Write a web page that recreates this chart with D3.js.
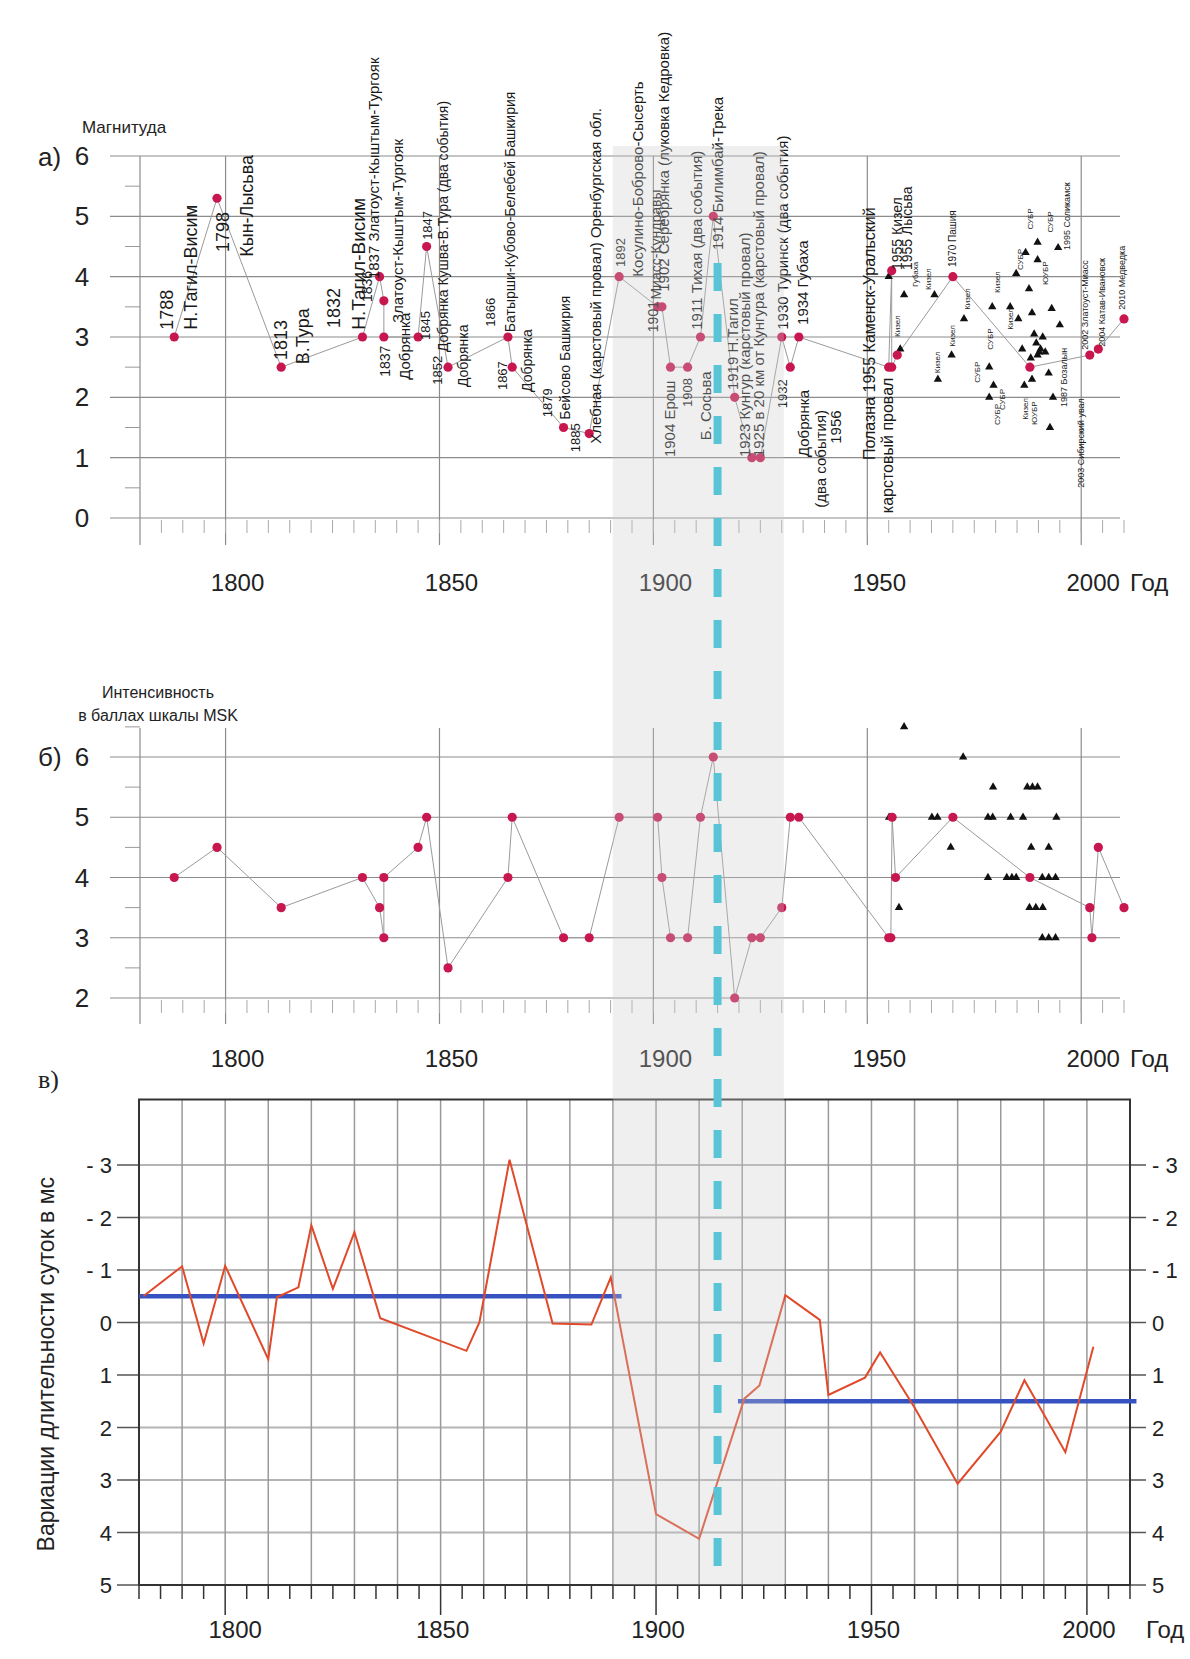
<!DOCTYPE html>
<html>
<head>
<meta charset="utf-8">
<script src="https://cdn.jsdelivr.net/npm/d3@7"></script>
<style>
body { margin: 0; background: #fff; }
svg { display: block; font-family: "Liberation Sans", Arial, sans-serif; }
</style>
</head>
<body>
<svg id="chart" width="1190" height="1659"></svg>
<script>
/* Data */
var yearTicks = [1800, 1850, 1900, 1950, 2000];
var magTicks = [0, 1, 2, 3, 4, 5, 6];
var intTicks = [2, 3, 4, 5, 6];
var lodTicks = [-3, -2, -1, 0, 1, 2, 3, 4, 5];
var lodTickLabels = ['- 3', '- 2', '- 1', '0', '1', '2', '3', '4', '5'];

// а) historical events: magnitude
var magYears = [1788, 1798, 1813, 1832, 1836, 1837, 1837, 1845, 1847, 1852, 1866, 1867, 1879, 1885,
    1892, 1901, 1902, 1904, 1908, 1911, 1914, 1919, 1923, 1925, 1930, 1932, 1934,
    1955, 1955.7, 1955.7, 1957, 1970, 1988, 2002, 2004, 2010];
var magValues = [3.0, 5.3, 2.5, 3.0, 4.0, 3.6, 3.0, 3.0, 4.5, 2.5, 3.0, 2.5, 1.5, 1.4,
    4.0, 3.5, 3.5, 2.5, 2.5, 3.0, 5.0, 2.0, 1.0, 1.0, 3.0, 2.5, 3.0,
    2.5, 4.1, 2.5, 2.7, 4.0, 2.5, 2.7, 2.8, 3.3];

// а) instrumental events
var magTriYears = [1955, 1957.7, 1958.6, 1965.7, 1966.5, 1969.7, 1972.6, 1978.5, 1979.5, 1978.5, 1979.2,
    1983.4, 1984.8, 1985.3, 1986.7, 1987, 1987.8, 1988.5, 1988.5, 1989, 1989.5, 1990.5, 1991,
    1989.8, 1990.2, 1991.6, 1989.8, 1989.8, 1992.4, 1992.7, 1993.1, 1993.4, 1994.6, 1995, 1986.2, 1988.2];
var magTriValues = [4.0, 2.8, 3.7, 3.7, 2.3, 2.7, 3.3, 2.5, 2.2, 2.0, 3.5,
    3.5, 4.05, 3.3, 2.2, 4.4, 3.8, 3.4, 2.3, 3.05, 2.9, 2.8, 3.0,
    2.7, 2.75, 2.75, 4.57, 4.28, 2.4, 1.5, 3.47, 2.0, 4.48, 3.2, 2.8, 2.65];

// а) event captions: text, year, magnitude at the start of the caption, font size
var magLabels = [
    ['1788', 1786.3, 3.12, 18], ['Н.Тагил-Висим', 1791.9, 3.12, 18],
    ['1798', 1799.4, 4.41, 18], ['Кын-Лысьва', 1805, 4.33, 18],
    ['1813', 1812.9, 2.62, 18], ['В.Тура', 1817.9, 2.55, 18],
    ['1832', 1825.3, 3.15, 18], ['Н.Тагил-Висим', 1831, 3.12, 19],
    ['1836', 1833, 3.58, 14], ['1837 Златоуст-Кыштым-Тургояк', 1834.7, 3.96, 15],
    ['1837', 1837.3, 2.34, 14], ['Златоуст-Кыштым-Тургояк', 1840.1, 3.23, 15],
    ['Добрянка', 1841.9, 2.29, 15], ['1845', 1846.6, 2.95, 13], ['1847', 1847.1, 4.61, 13],
    ['Добрянка  Кушва-В.Тура (два события)', 1850.8, 2.75, 14],
    ['1852', 1849.4, 2.21, 13], ['Добрянка', 1855.5, 2.17, 14],
    ['1866', 1861.8, 3.17, 13], ['Батырши-Кубово-Белебей Башкирия', 1866.5, 3.08, 14],
    ['1867', 1864.8, 2.12, 13], ['Добрянка', 1870.4, 2.09, 14],
    ['1879', 1875.1, 1.67, 13], ['Бейсово Башкирия', 1879.3, 1.63, 14],
    ['1885', 1881.7, 1.09, 13], ['Хлебная (карстовый провал) Оренбургская обл.', 1886.6, 1.23, 15],
    ['1892', 1892.2, 4.16, 13], ['Косулино-Боброво-Сысерть', 1896.2, 4.0, 15],
    ['1901', 1899.9, 3.08, 14], ['Миасс-Кундравы', 1900.6, 3.62, 14],
    ['1902 Серебрянка (луковка Кедровка)', 1902.5, 3.75, 15],
    ['1904 Ерош', 1903.9, 1.01, 15], ['1908', 1907.9, 1.84, 13], ['Б. Сосьва', 1912.1, 1.29, 15],
    ['1911 Тихая (два события)', 1910, 3.12, 15], ['1914 Билимбай-Трека', 1914.9, 4.44, 15],
    ['1919 Н.Тагил', 1918.6, 2.12, 15], ['1923 Кунгур (карстовый провал)', 1921.4, 1.01, 15],
    ['1925 в 20 км от Кунгура (карстовый провал)', 1924.5, 1.01, 15],
    ['1930 Туринск (два события)', 1930.3, 3.12, 15], ['1932', 1930.1, 1.82, 13],
    ['1934 Губаха', 1934.8, 3.2, 15], ['Добрянка', 1935, 1.01, 15],
    ['(два события)', 1939, 0.17, 15], ['1956', 1942.5, 1.23, 15],
    ['Полазна  1955 Каменск-Уральский', 1950.4, 0.96, 16], ['карстовый провал', 1954.6, 0.08, 16],
    ['1955 Кизел', 1956.9, 4.11, 14], ['1955 Лысьва', 1959.3, 4.11, 14],
    ['1970 Пашия', 1969.8, 4.16, 10], ['1995 Соликамск', 1996.7, 4.44, 9],
    ['1987 Бозалын', 1996, 1.84, 9], ['2002 Златоуст-Миасс', 2000.9, 2.79, 9],
    ['2003 Сибирский увал', 2000, 0.5, 9], ['2004 Катав-Ивановск', 2004.9, 2.84, 9],
    ['2010 Медведка', 2009.5, 3.45, 9],
    ['Кизел', 1957, 3.0, 8], ['Губаха', 1961.2, 3.83, 8], ['Кизел', 1964.2, 3.78, 8],
    ['Кизел', 1966.3, 2.4, 8], ['Кизел', 1969.8, 2.84, 8], ['Кизел', 1973.3, 3.45, 8],
    ['Кизел', 1980.3, 3.73, 8], ['СУБР', 1975.6, 2.24, 8], ['СУБР', 1978.6, 2.79, 8],
    ['СУБР', 1981.5, 1.79, 8], ['СУБР', 1985.7, 4.11, 8], ['СУБР', 1988, 4.78, 8],
    ['СУБР', 1992.7, 4.73, 8], ['ЮУБР', 1991.5, 3.86, 8], ['Кизел', 1983.3, 3.12, 8],
    ['Кизел', 1986.8, 1.63, 8], ['ЮУБР', 1989.1, 1.54, 8], ['СУБР', 1980.3, 1.54, 8]
];

// б) intensity, MSK scale
var intYears = [1788, 1798, 1813, 1832, 1836, 1837, 1837, 1845, 1847, 1852, 1866, 1867, 1879, 1885,
    1892, 1901, 1902, 1904, 1908, 1911, 1914, 1919, 1923, 1925, 1930, 1932, 1934,
    1955, 1955.5, 1955.8, 1956.6, 1970, 1988, 2002, 2002.5, 2004, 2010];
var intValues = [4, 4.5, 3.5, 4, 3.5, 3, 4, 4.5, 5, 2.5, 4, 5, 3, 3,
    5, 5, 4, 3, 3, 5, 6, 2, 3, 3, 3.5, 5, 5,
    3, 3, 5, 4, 5, 4, 3.5, 3, 4.5, 3.5];
var intTriYears = [1958.6, 1972.4, 1979.4, 1987.4, 1988.6, 1989.8, 1955.1, 1965.1, 1966.4, 1978.2, 1979.3,
    1983.5, 1986.4, 1994.2, 1969.5, 1988.3, 1992.4, 1978.2, 1982.6, 1983.8, 1984.8, 1990.9, 1992.4,
    1994, 1957.4, 1987.9, 1989.4, 1991, 1990.9, 1992.4, 1994];
var intTriValues = [6.5, 6.0, 5.5, 5.5, 5.5, 5.5, 5, 5, 5, 5, 5,
    5, 5, 5, 4.5, 4.5, 4.5, 4, 4, 4, 4, 4, 4,
    4, 3.5, 3.5, 3.5, 3.5, 3, 3, 3];

// в) length-of-day variations, ms
var lodYears = [1781, 1790, 1795, 1800, 1810, 1812, 1817, 1820, 1825, 1830, 1836, 1856, 1859, 1866,
    1876, 1885, 1889.5, 1900, 1910, 1920.5, 1924, 1930, 1938, 1940, 1948.5, 1952, 1960, 1970,
    1980, 1985.5, 1995, 2001.5];
var lodValues = [-0.5, -1.07, 0.4, -1.08, 0.7, -0.48, -0.67, -1.85, -0.64, -1.72, -0.08, 0.54, 0.0, -3.1,
    0.02, 0.04, -0.86, 3.65, 4.12, 1.45, 1.2, -0.52, -0.05, 1.38, 1.05, 0.57, 1.62, 3.07,
    2.08, 1.1, 2.47, 0.46];
var lodMeanStart = [1780, 1919];
var lodMeanEnd = [1892, 2011.5];
var lodMeanValues = [-0.5, 1.5];

var bandYears = [1890.5, 1930.5];
var shiftYear = 1915;

/* Scales */
var xAB = d3.scaleLinear().domain([1780, 2010]).range([140, 1124]);
var xC = d3.scaleLinear().domain([1780, 2010]).range([139, 1130]);
var yA = d3.scaleLinear().domain([0, 6]).range([518, 156]);
var yB = d3.scaleLinear().domain([2, 6]).range([998, 757]);
var yC = d3.scaleLinear().domain([-3, 5]).range([1165, 1585]);

var svg = d3.select('#chart');
var red = '#c8174f';
var gridColor = '#8c8c8c';

function zip(xs, ys) {
    return xs.map(function(d, i) { return [d, ys[i]]; });
}

/* Panels а) and б) share the same frame */
function drawFrame(g, y, ticks, halfTicks, top, bottom, labelY) {
    var y0 = y(ticks[0]);

    g.selectAll('line.h').data(ticks).join('line')
        .attr('x1', 110).attr('x2', 1120)
        .attr('y1', function(d) { return y(d); })
        .attr('y2', function(d) { return y(d); })
        .attr('stroke', gridColor).attr('stroke-width', 1.2);

    g.selectAll('line.half').data(halfTicks).join('line')
        .attr('x1', 125).attr('x2', 140)
        .attr('y1', function(d) { return y(d); })
        .attr('y2', function(d) { return y(d); })
        .attr('stroke', '#999');

    g.selectAll('line.v').data([1780].concat(yearTicks)).join('line')
        .attr('x1', function(d) { return xAB(d); })
        .attr('x2', function(d) { return xAB(d); })
        .attr('y1', top).attr('y2', bottom)
        .attr('stroke', gridColor).attr('stroke-width', 1.2);

    g.selectAll('line.minor').data(d3.range(1785, 2011, 5)).join('line')
        .attr('x1', function(d) { return xAB(d); })
        .attr('x2', function(d) { return xAB(d); })
        .attr('y1', y0 + 2).attr('y2', y0 + 15)
        .attr('stroke', '#aaa');

    g.append('g').selectAll('text').data(ticks).join('text')
        .attr('x', 82).attr('y', function(d) { return y(d) + 9; })
        .attr('text-anchor', 'middle').attr('font-size', 26).attr('fill', '#222')
        .text(function(d) { return d; });

    g.append('g').selectAll('text').data(yearTicks).join('text')
        .attr('x', function(d) { return xAB(d) + 12; })
        .attr('y', labelY)
        .attr('text-anchor', 'middle').attr('font-size', 24).attr('fill', '#222')
        .text(function(d) { return d; });

    g.append('text').attr('x', 1130).attr('y', labelY)
        .attr('font-size', 24).attr('fill', '#222').text('Год');
}

function drawEvents(g, y, years, values, triYears, triValues) {
    var line = d3.line()
        .x(function(d) { return xAB(d[0]); })
        .y(function(d) { return y(d[1]); });

    g.append('path').datum(zip(years, values))
        .attr('d', line).attr('fill', 'none')
        .attr('stroke', '#9a9a9a').attr('stroke-width', 1);

    g.append('g').selectAll('path').data(zip(triYears, triValues)).join('path')
        .attr('d', d3.symbol(d3.symbolTriangle).size(30))
        .attr('transform', function(d) {
            return 'translate(' + xAB(d[0]) + ',' + y(d[1]) + ')';
        })
        .attr('fill', '#111');

    g.append('g').selectAll('circle').data(zip(years, values)).join('circle')
        .attr('cx', function(d) { return xAB(d[0]); })
        .attr('cy', function(d) { return y(d[1]); })
        .attr('r', 4.6).attr('fill', red);
}

/* а) */
var gA = svg.append('g');
drawFrame(gA, yA, magTicks, d3.range(0.5, 6, 1), yA(6), 545, 591);
drawEvents(gA, yA, magYears, magValues, magTriYears, magTriValues);

gA.append('g').selectAll('text').data(magLabels).join('text')
    .attr('transform', function(d) {
        return 'translate(' + (xAB(d[1]) + d[3] * 0.36) + ',' + yA(d[2]) + ') rotate(-90)';
    })
    .attr('font-size', function(d) { return d[3]; })
    .attr('fill', '#1a1a1a')
    .text(function(d) { return d[0]; });

gA.append('text').attr('x', 82).attr('y', 133).attr('font-size', 17).attr('fill', '#222').text('Магнитуда');
gA.append('text').attr('x', 38).attr('y', 166).attr('font-size', 26).attr('fill', '#222').text('а)');

/* б) */
var gB = svg.append('g');
drawFrame(gB, yB, intTicks, d3.range(2.5, 7, 1), 728, 1024, 1067);
drawEvents(gB, yB, intYears, intValues, intTriYears, intTriValues);

gB.append('text').attr('x', 158).attr('y', 698).attr('text-anchor', 'middle')
    .attr('font-size', 16).attr('fill', '#222').text('Интенсивность');
gB.append('text').attr('x', 158).attr('y', 721).attr('text-anchor', 'middle')
    .attr('font-size', 16).attr('fill', '#222').text('в баллах шкалы MSK');
gB.append('text').attr('x', 38).attr('y', 766).attr('font-size', 26).attr('fill', '#222').text('б)');

/* в) */
var gC = svg.append('g');
var boxTop = yC(-4.25);
var boxBottom = yC(5);

gC.selectAll('line.h').data(lodTicks).join('line')
    .attr('x1', xC(1780)).attr('x2', xC(2010))
    .attr('y1', function(d) { return yC(d); })
    .attr('y2', function(d) { return yC(d); })
    .attr('stroke', '#b4b4b4').attr('stroke-width', 2);

gC.selectAll('line.v').data(d3.range(1790, 2010, 10)).join('line')
    .attr('x1', function(d) { return xC(d); })
    .attr('x2', function(d) { return xC(d); })
    .attr('y1', boxTop).attr('y2', boxBottom)
    .attr('stroke', '#9a9a9a').attr('stroke-width', 1.5);

gC.selectAll('line.tl').data(lodTicks).join('line')
    .attr('x1', xC(1780) - 22).attr('x2', xC(1780))
    .attr('y1', function(d) { return yC(d); })
    .attr('y2', function(d) { return yC(d); })
    .attr('stroke', '#555').attr('stroke-width', 1.5);

gC.selectAll('line.tr').data(lodTicks).join('line')
    .attr('x1', xC(2010)).attr('x2', xC(2010) + 16)
    .attr('y1', function(d) { return yC(d); })
    .attr('y2', function(d) { return yC(d); })
    .attr('stroke', '#555').attr('stroke-width', 1.5);

gC.selectAll('line.minor').data(d3.range(1780, 2011, 5)).join('line')
    .attr('x1', function(d) { return xC(d); })
    .attr('x2', function(d) { return xC(d); })
    .attr('y1', boxBottom)
    .attr('y2', function(d) { return boxBottom + (d % 50 === 0 ? 30 : 14); })
    .attr('stroke', '#333').attr('stroke-width', 1.5);

gC.append('path')
    .attr('d', 'M' + xC(1780) + ',' + boxBottom + 'V' + boxTop + 'H' + xC(2010) + 'V' + boxBottom + 'Z')
    .attr('fill', 'none').attr('stroke', '#333').attr('stroke-width', 2);

gC.append('g').selectAll('text').data(lodTicks).join('text')
    .attr('x', 112).attr('y', function(d) { return yC(d) + 8; })
    .attr('text-anchor', 'end').attr('font-size', 22).attr('fill', '#222')
    .text(function(d, i) { return lodTickLabels[i]; });

gC.append('g').selectAll('text').data(lodTicks).join('text')
    .attr('x', 1152).attr('y', function(d) { return yC(d) + 8; })
    .attr('font-size', 22).attr('fill', '#222')
    .text(function(d, i) { return lodTickLabels[i]; });

gC.append('g').selectAll('text').data(yearTicks).join('text')
    .attr('x', function(d) { return xC(d) + (d === 1800 ? 10 : 2); })
    .attr('y', 1638)
    .attr('text-anchor', 'middle').attr('font-size', 24).attr('fill', '#222')
    .text(function(d) { return d; });
gC.append('text').attr('x', 1146).attr('y', 1638).attr('font-size', 24).attr('fill', '#222').text('Год');

gC.append('text')
    .attr('transform', 'translate(54,' + ((boxTop + boxBottom) / 2 + 22) + ') rotate(-90)')
    .attr('text-anchor', 'middle').attr('font-size', 23).attr('fill', '#222')
    .text('Вариации длительности суток в мс');
gC.append('text').attr('x', 38).attr('y', 1088)
    .attr('font-family', '"Liberation Serif", "Times New Roman", serif')
    .attr('font-size', 26).attr('fill', '#222').text('в)');

gC.append('g').selectAll('line').data(lodMeanValues).join('line')
    .attr('x1', function(d, i) { return xC(lodMeanStart[i]); })
    .attr('x2', function(d, i) { return xC(lodMeanEnd[i]); })
    .attr('y1', function(d) { return yC(d); })
    .attr('y2', function(d) { return yC(d); })
    .attr('stroke', '#3552c0').attr('stroke-width', 4.5);

gC.append('path').datum(zip(lodYears, lodValues))
    .attr('d', d3.line()
        .x(function(d) { return xC(d[0]); })
        .y(function(d) { return yC(d[1]); }))
    .attr('fill', 'none').attr('stroke', '#e0492a').attr('stroke-width', 2);

/* Shaded interval and the 1915 marker across all panels */
svg.append('rect')
    .attr('x', xAB(bandYears[0])).attr('y', 146)
    .attr('width', xAB(bandYears[1]) - xAB(bandYears[0]))
    .attr('height', boxBottom - 146)
    .attr('fill', 'rgb(203,203,203)').attr('fill-opacity', 0.3);

svg.append('line')
    .attr('x1', xAB(shiftYear)).attr('x2', xAB(shiftYear))
    .attr('y1', 263).attr('y2', boxBottom)
    .attr('stroke', '#58c4d6').attr('stroke-width', 8)
    .attr('stroke-dasharray', '28,23');
</script>
</body>
</html>
